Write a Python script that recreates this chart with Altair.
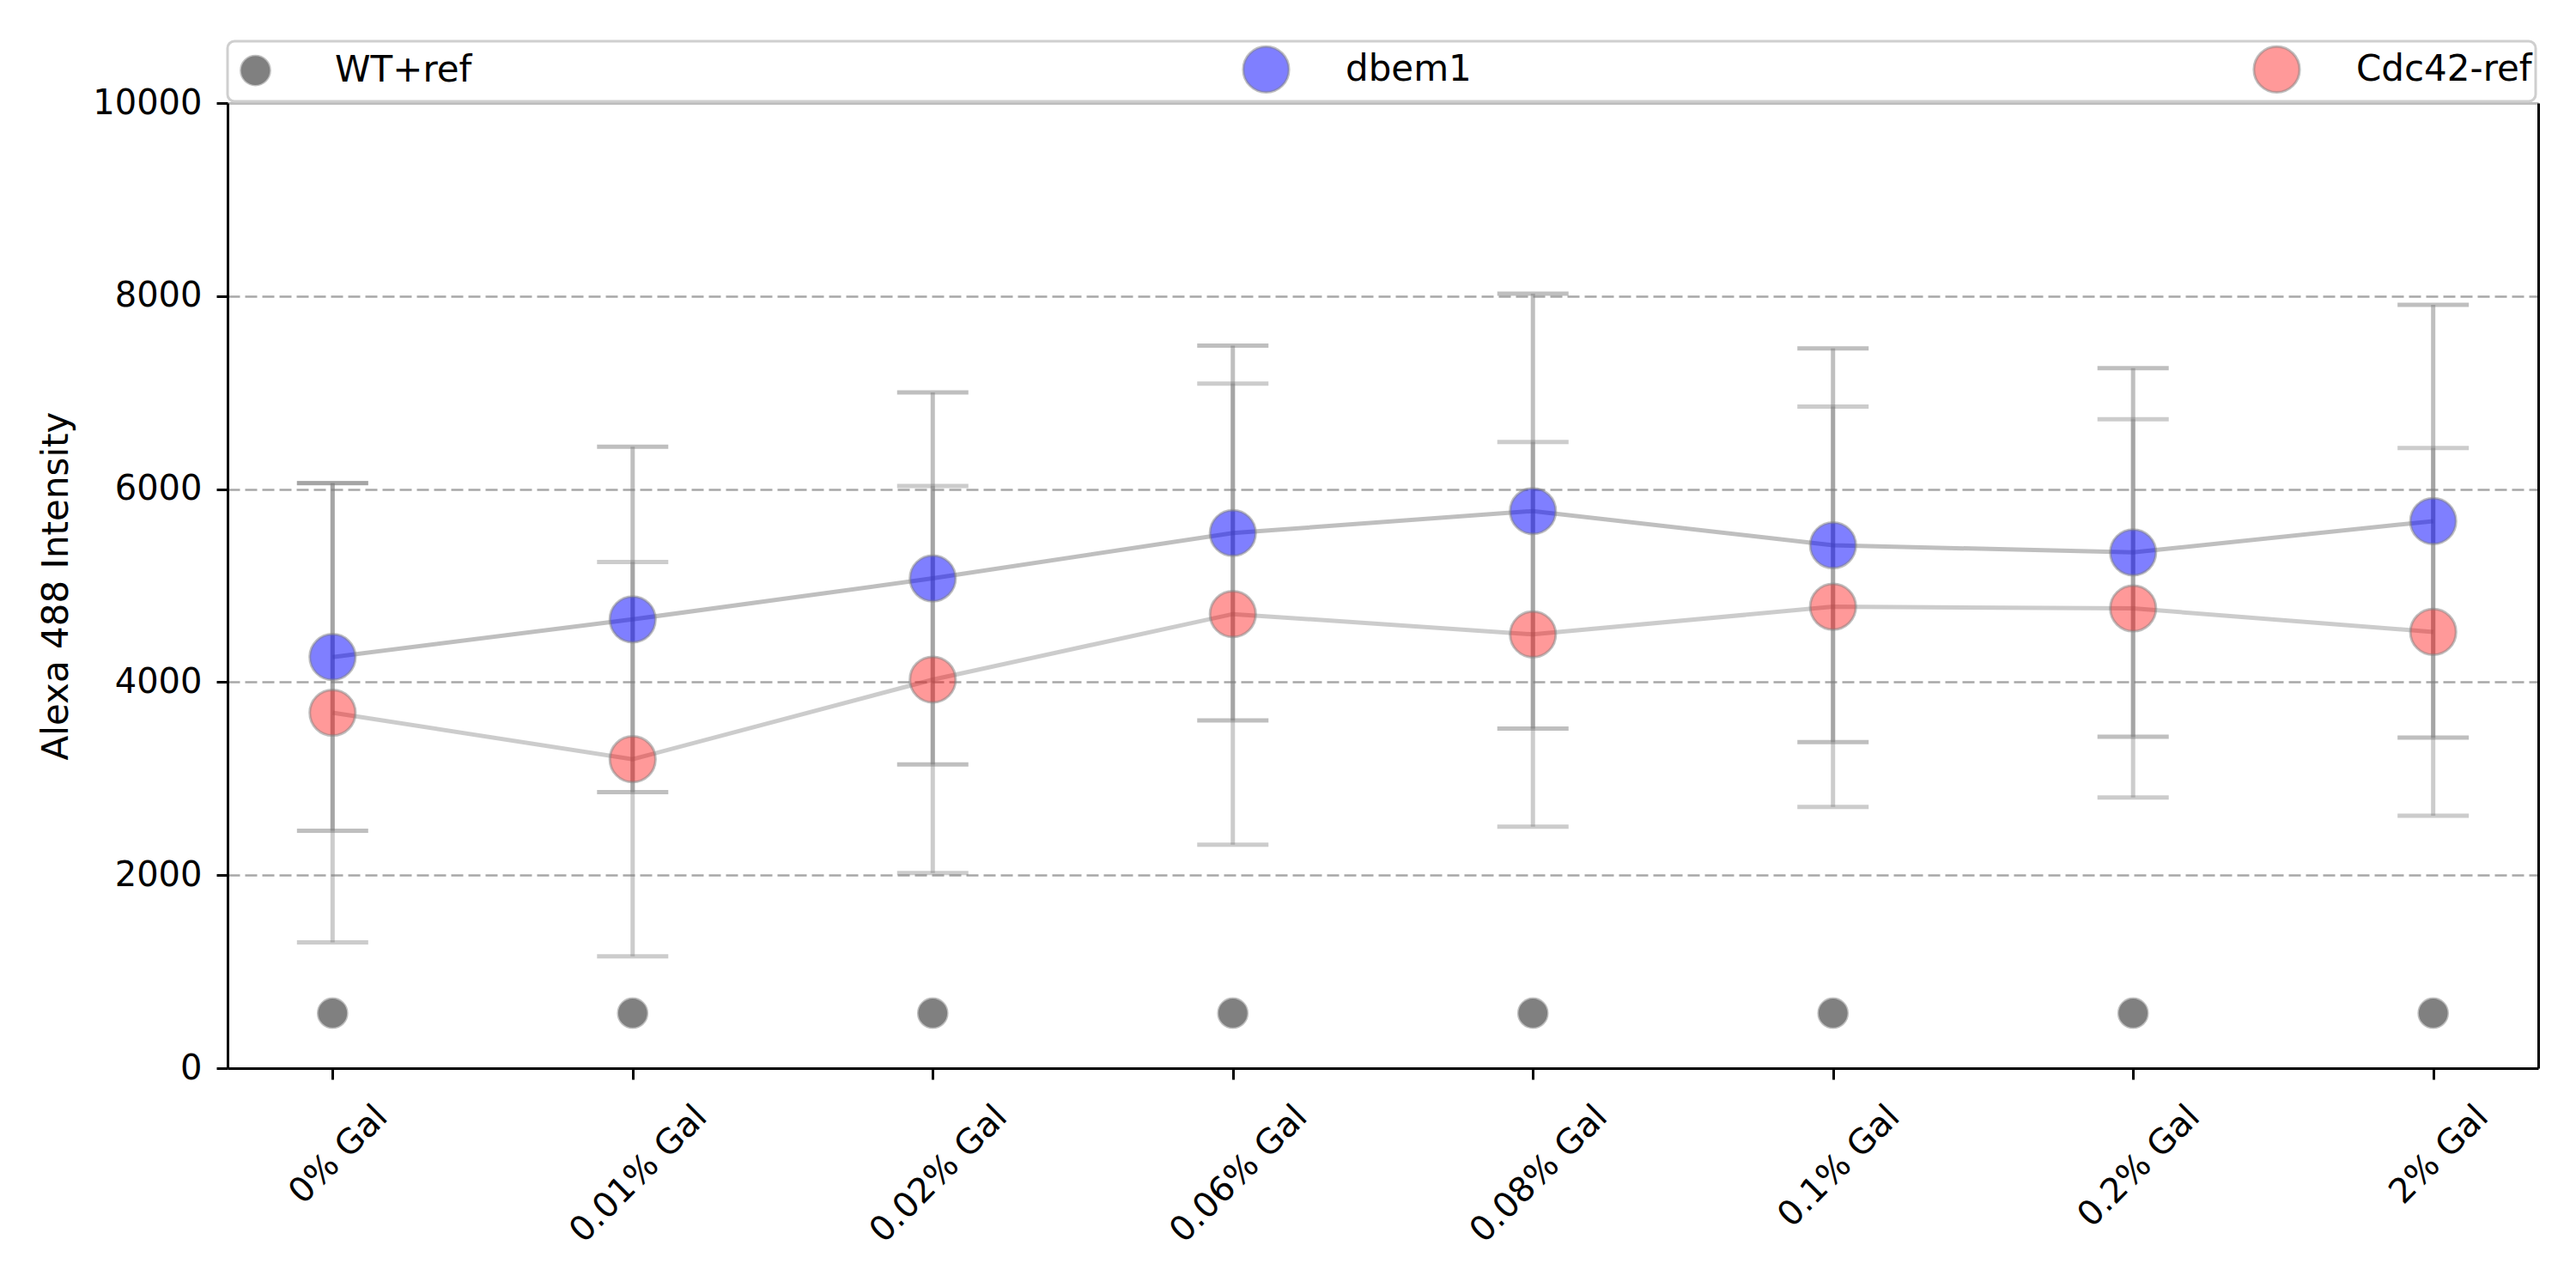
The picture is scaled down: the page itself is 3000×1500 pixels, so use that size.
import json
import altair as alt
import pandas as pd

# ---- data ----
categories = ["0% Gal", "0.01% Gal", "0.02% Gal", "0.06% Gal",
              "0.08% Gal", "0.1% Gal", "0.2% Gal", "2% Gal"]
wt_ref = [570, 570, 570, 570, 570, 570, 570, 570]
dbem1_mean = [4260, 4650, 5075, 5545, 5772, 5418, 5344, 5668]
dbem1_err = [1800, 1790, 1927, 1941, 2253, 2040, 1910, 2242]
cdc42_mean = [3683, 3201, 4026, 4705, 4495, 4781, 4764, 4520]
cdc42_err = [2380, 2043, 2005, 2389, 1992, 2075, 1960, 1905]
series_names = ["WT+ref", "dbem1", "Cdc42-ref"]
y_ticks = [0, 2000, 4000, 6000, 8000, 10000]

rows = []
for i, c in enumerate(categories):
    rows.append(dict(idx=i, cat=c, series="WT+ref", mean=wt_ref[i], lo=None, hi=None, order=0))
    rows.append(dict(idx=i, cat=c, series="dbem1", mean=dbem1_mean[i],
                     lo=dbem1_mean[i] - dbem1_err[i], hi=dbem1_mean[i] + dbem1_err[i], order=1))
    rows.append(dict(idx=i, cat=c, series="Cdc42-ref", mean=cdc42_mean[i],
                     lo=cdc42_mean[i] - cdc42_err[i], hi=cdc42_mean[i] + cdc42_err[i], order=2))
df = pd.DataFrame(rows)

FONT = "DejaVu Sans"

# label offsets (style): emulate matplotlib centre-aligned rotated labels
char_w = {"0": .636, "1": .636, "2": .636, "6": .636, "8": .636, ".": .318,
          "%": .95, " ": .318, "G": .775, "a": .613, "l": .278}
def tw(s):
    return sum(char_w.get(ch, .6) for ch in s) * 40
base_w = tw("0% Gal")
label_dx = [round(43 + 0.3535 * (tw(c) - base_w), 1) for c in categories]

x_scale = alt.Scale(domain=[-0.35, 7.35], nice=False, zero=False)
y_scale = alt.Scale(domain=[0, 10000], nice=False, zero=False)

x_axis = alt.Axis(
    orient="bottom",
    values=list(range(len(categories))),
    labelExpr=json.dumps(categories) + "[round(datum.value)]",
    labelAngle=-45, labelAlign="right", labelBaseline="top", labelLimit=600,
    labelPadding=23, labelOffset=alt.ExprRef(json.dumps(label_dx) + "[round(datum.value)]"),
    grid=False, title=None, tickSize=13,
)
y_axis = alt.Axis(
    orient="left",
    values=y_ticks, format="d", title="Alexa 488 Intensity", grid=True,
    gridDash=[14, 6], gridColor="#a8a8a8", gridWidth=2.5,
    gridOpacity={"condition": {"test": "datum.value <= 0 || datum.value >= 10000", "value": 0},
                 "value": 1},
    tickSize=13, labelPadding=17, titlePadding=20,
)
# top / right spines (frame); the top one sits under the semi-opaque legend box
x_top = alt.Axis(orient="top", domain=True, ticks=False, labels=False, grid=False,
                 title=None, domainColor="#bdbdbd", zindex=0)
y_right = alt.Axis(orient="right", domain=True, ticks=False, labels=False, grid=False,
                   title=None, zindex=0)

def X(axis=None):
    return alt.X("idx:Q", scale=x_scale, axis=axis)

def Y(field, axis=None):
    return alt.Y(field + ":Q", scale=y_scale, axis=axis)

base = alt.Chart(df)

legend = alt.Legend(
    title=None, orient="none", legendX=0, legendY=-72, direction="horizontal",
    columns=3, columnPadding=846, labelOffset=64, padding=4, gridAlign="all",
    labelFont=FONT, labelFontSize=42, labelColor="black", labelLimit=600,
    fillColor="rgba(255,255,255,0.8)", strokeColor="#cfcfcf", cornerRadius=8,
    symbolStrokeColor="rgba(128,128,128,0.5)", symbolStrokeWidth=3, zindex=5,
)

layers = []
for name, op in [("dbem1", 0.5), ("Cdc42-ref", 0.4)]:
    sub = base.transform_filter(alt.datum.series == name)
    layers.append(sub.mark_rule(color="#808080", opacity=op, strokeWidth=5).encode(
        x=X(), y=Y("lo"), y2="hi:Q"))
    for f in ["lo", "hi"]:
        layers.append(sub.mark_tick(color="#808080", opacity=op, orient="horizontal",
                                    size=83, thickness=5).encode(x=X(), y=Y(f)))
    layers.append(sub.mark_line(color="#808080", opacity=op, strokeWidth=5).encode(
        x=X(), y=Y("mean")))

frame = base.mark_point(opacity=0).encode(x=X(x_top), y=Y("mean", y_right))
layers.insert(0, frame)

points = base.mark_point(filled=True, opacity=1, stroke="#808080", strokeOpacity=0.5,
                         strokeWidth=3).encode(
    x=X(x_axis), y=Y("mean", y_axis),
    color=alt.Color("series:N", scale=alt.Scale(
        type="ordinal", domain=series_names,
        range=["#808080", "rgba(0,0,255,0.5)", "rgba(255,0,0,0.4)"]), legend=legend),
    size=alt.Size("series:N", scale=alt.Scale(type="ordinal", domain=series_names,
                                              range=[1134, 2827, 2827]),
                  legend=legend),
    order=alt.Order("order:Q"),
)
layers.append(points)

chart = alt.layer(*layers).resolve_axis(
    x="independent", y="independent"
).properties(
    width=2691, height=1124,
    padding={"left": 257, "top": 112, "right": 36, "bottom": 240},
    autosize=alt.AutoSizeParams(type="none"),
).configure_view(
    strokeWidth=0
).configure_axis(
    domainColor="black", domainWidth=3, tickColor="black", tickWidth=3,
    labelFont=FONT, labelFontSize=40, labelColor="black",
    titleFont=FONT, titleFontSize=42, titleFontWeight="normal", titleColor="black",
).configure_legend(strokeWidth=3)

chart.save("out.html", embed_options={"renderer": "svg", "actions": False})
